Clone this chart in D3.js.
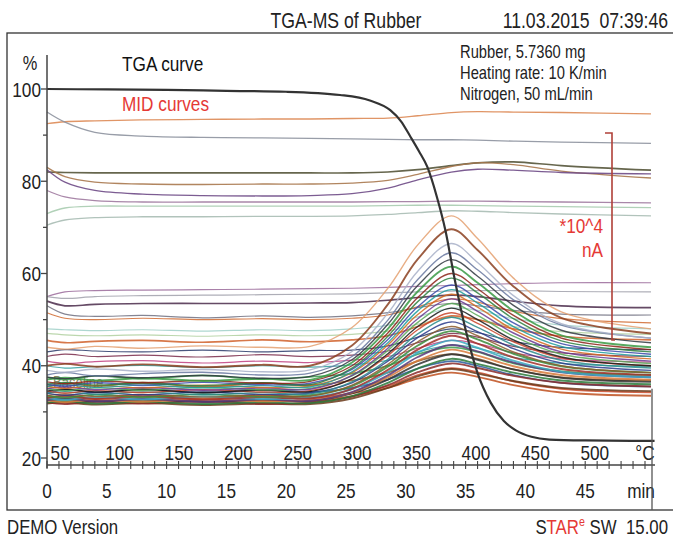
<!DOCTYPE html>
<html><head><meta charset="utf-8">
<script src="https://cdn.jsdelivr.net/npm/d3@7/dist/d3.min.js"></script>
<style>
html,body{margin:0;padding:0;background:#fff;}
svg{display:block;}
text{font-family:'Liberation Sans',Arial,sans-serif;}
</style></head>
<body>
<svg id="chart" width="673" height="537"></svg>
<script>
// ---------- data ----------
const yTicks = [20, 40, 60, 80, 100];
const yMinorTicks = [30, 50, 70, 90];
const timeTicks = [0, 5, 10, 15, 20, 25, 30, 35, 40, 45];
const tempTicks = [50, 100, 150, 200, 250, 300, 350, 400, 450, 500];

const tgaTimes  = [0, 5, 10, 15, 20, 24.5, 27, 28.7, 29.6, 30.4, 31.1, 31.8, 32.6, 33.3, 34.1, 35.0, 36.0, 37.1, 38.2, 39.2, 40.5, 42, 45, 50.8];
const tgaValues = [100, 99.9, 99.8, 99.6, 99.4, 98.7, 97.5, 95.4, 93, 89.6, 86.5, 83.1, 76.6, 69.5, 58.6, 47.8, 38.4, 32, 28, 26, 24.6, 24, 23.8, 23.7];

const midTimes = [0, 1.5, 4, 8, 13, 18, 22, 25.5, 28.5, 31, 33.8, 36, 39, 43, 50.5];

// flat / upper MID curves
const midUpper = [
  [92.5, 92.9, 93.1, 93.3, 93.4, 93.5, 93.5, 93.6, 93.7, 94.2, 94.9, 95.1, 95, 94.9, 94.6],
  [95, 92.8, 90.6, 89.8, 89.5, 89.4, 89.3, 89.2, 89.1, 89, 89, 88.9, 88.7, 88.5, 88.2],
  [82, 81.9, 81.8, 81.8, 81.8, 81.8, 81.8, 81.8, 82, 82.5, 83.4, 84, 84.2, 83.4, 82.4],
  [83, 81, 79.8, 79.4, 79.3, 79.4, 79.4, 79.6, 80.2, 81.5, 83.2, 84, 83.6, 82.2, 80.7],
  [82.5, 79.8, 78, 77.2, 76.9, 76.8, 76.9, 77.3, 78.5, 80.3, 82, 82.6, 82.4, 81.9, 81.6],
  [78, 76.6, 75.8, 75.5, 75.5, 75.5, 75.5, 75.5, 75.6, 75.6, 75.7, 75.7, 75.6, 75.5, 75.3],
  [73, 74.2, 74.6, 74.6, 74.6, 74.6, 74.6, 74.6, 74.7, 74.8, 74.8, 74.7, 74.6, 74.5, 74.3],
  [70.5, 71.6, 72.1, 72.3, 72.3, 72.4, 72.4, 72.5, 72.8, 73.2, 73.6, 73.5, 73.2, 72.9, 72.5]
];
// middle MID curves
const midMiddle = [
  [55, 56, 56.3, 56.4, 56.5, 56.6, 56.7, 56.8, 57, 57.2, 57.4, 57.6, 57.8, 58, 58],
  [55, 54.6, 55, 55.2, 55.3, 55.4, 55.5, 55.6, 55.8, 56, 56.2, 56.3, 56.3, 56.1, 56],
  [54, 53, 53.3, 53.5, 53.5, 53.5, 53.6, 53.7, 54.2, 54.8, 55.3, 55, 54, 53, 52.6],
  [53, 51.2, 50.7, 50.9, 50.4, 50.8, 50.5, 50.8, 51.5, 52.6, 53.5, 53, 52, 51.2, 51],
  [51.5, 50.3, 50, 50.3, 50, 50.2, 50, 50.3, 51, 52.8, 54.5, 53.8, 51.8, 50.2, 49.3],
  [48, 47.8, 47.6, 47.8, 47.5, 47.8, 47.6, 48, 48.8, 50.6, 52.5, 52, 50.2, 48.8, 48],
  [47, 46.7, 46.5, 46.7, 46.4, 46.7, 46.5, 46.8, 47.5, 49, 50.5, 50, 48.5, 47.4, 46.8],
  [45.5, 45, 45.3, 45.5, 45.1, 45.6, 45.2, 45.6, 46.5, 48.5, 50.8, 50, 48, 46.4, 45.6],
  [43, 43.5, 43.2, 43, 43.4, 43, 43.3, 43.4, 44.3, 46.2, 48, 47.2, 45.3, 44, 43.5],
  [42, 42.5, 42, 42.3, 41.9, 42.4, 42, 42.3, 43.2, 45, 47, 46.2, 44.2, 42.8, 42],
  [41, 40.5, 40.9, 41.1, 40.6, 41, 40.7, 41.2, 42, 43.8, 45.5, 44.8, 42.8, 41.5, 40.8],
  [40, 39.5, 39.8, 40.1, 39.6, 40, 39.7, 40.2, 41.2, 43, 44.5, 43.8, 41.8, 40.5, 39.8],
  [37.5, 37, 37.8, 37.2, 37.9, 37.1, 37.6, 38.3, 40, 42.5, 44, 43, 40.5, 38.8, 38],
  [35.5, 36.2, 35.6, 36.4, 35.4, 36.3, 35.8, 36.8, 38.5, 41, 42.5, 41.5, 39.2, 37.5, 36.8],
  [34, 34.8, 34.2, 35, 34.1, 34.9, 34.3, 35.2, 37, 39.4, 41, 40, 38, 36.3, 35.5],
  [33, 33.6, 32.9, 33.7, 32.8, 33.6, 33, 34, 35.6, 38, 39.5, 38.6, 36.6, 35, 34.2]
];
// MID curves with strong peak
const midPeaks = [
  [44, 43.6, 44.2, 43.8, 44.3, 44, 44.2, 48.3, 56.8, 66.2, 72.5, 67.6, 59, 51.7, 48],
  [40, 40.4, 39.8, 40.3, 39.7, 40.2, 40, 44.4, 53.3, 63.1, 69.6, 65.1, 57.2, 50.4, 47],
  [39, 38.6, 39.3, 38.8, 39.2, 38.7, 39.1, 43.1, 51.4, 60.5, 66.5, 62.4, 55.2, 49.1, 46],
  [38, 38.5, 37.8, 38.3, 38.6, 38, 38.4, 42, 49.9, 58.7, 64.5, 60.8, 54.3, 48.8, 46],
  [37.5, 37.2, 37.8, 37.4, 37.9, 37.3, 37.7, 41.3, 49, 57.4, 63, 59.4, 53.1, 47.7, 45],
  [37, 37.4, 36.8, 37.3, 36.7, 37.2, 36.9, 40.7, 48, 56.1, 61.5, 58, 51.9, 46.6, 44],
  [36.5, 36.1, 36.7, 36.3, 36.8, 36.2, 36.6, 40, 47.1, 54.8, 60, 56.7, 50.9, 46, 43.5],
  [36, 36.4, 35.8, 36.2, 35.7, 36.3, 35.9, 39.5, 46.4, 53.9, 59, 55.8, 50.2, 45.4, 43],
  [36, 35.6, 36.3, 35.8, 36.4, 35.9, 36.2, 39.2, 45.7, 52.8, 57.5, 54.5, 49.3, 44.8, 42.5],
  [35.5, 35.9, 35.3, 35.8, 35.2, 35.7, 35.4, 38.7, 45, 51.9, 56.5, 53.6, 48.5, 44.2, 42],
  [35.5, 35.1, 35.7, 35.2, 35.8, 35.3, 35.6, 38.5, 44.5, 51.1, 55.5, 52.7, 47.8, 43.6, 41.5],
  [35, 35.4, 34.8, 35.3, 34.7, 35.2, 34.9, 37.9, 43.8, 50.2, 54.5, 51.8, 47.1, 43, 41],
  [35, 34.6, 35.2, 34.7, 35.3, 34.8, 35.1, 37.8, 43.3, 49.4, 53.5, 50.9, 46.4, 42.5, 40.5],
  [34.5, 34.9, 34.3, 34.8, 34.2, 34.7, 34.4, 37.2, 42.6, 48.5, 52.5, 50, 45.6, 41.9, 40],
  [34.5, 34.1, 34.6, 34.2, 34.8, 34.3, 34.6, 37.1, 42.2, 47.8, 51.5, 49.2, 45.2, 41.7, 40],
  [34, 34.4, 33.8, 34.3, 33.7, 34.2, 33.9, 36.5, 41.4, 46.9, 50.5, 48.3, 44.5, 41.2, 39.5],
  [34, 33.6, 34.2, 33.7, 34.3, 33.8, 34.1, 36.3, 41, 46.1, 49.5, 47.4, 43.7, 40.6, 39],
  [33.5, 33.9, 33.3, 33.8, 33.2, 33.7, 33.4, 35.8, 40.3, 45.2, 48.5, 46.5, 43, 40, 38.5],
  [33.5, 33.1, 33.7, 33.2, 33.8, 33.3, 33.6, 35.6, 39.8, 44.4, 47.5, 45.7, 42.6, 39.9, 38.5],
  [33, 33.4, 32.8, 33.3, 32.7, 33.2, 32.9, 35, 39.1, 43.5, 46.5, 44.8, 41.8, 39.3, 38],
  [33, 32.6, 33.2, 32.7, 33.3, 32.8, 33.1, 34.9, 38.6, 42.8, 45.5, 43.9, 41.1, 38.7, 37.5],
  [32.5, 32.9, 32.3, 32.8, 32.2, 32.7, 32.4, 34.3, 37.9, 41.9, 44.5, 43.1, 40.7, 38.6, 37.5],
  [32.5, 32.1, 32.7, 32.2, 32.8, 32.3, 32.6, 34.2, 37.5, 41.1, 43.5, 42.2, 39.9, 38, 37],
  [32.5, 32.8, 32.3, 32.7, 32.2, 32.6, 32.4, 34, 37, 40.3, 42.5, 41.3, 39.2, 37.4, 36.5],
  [32, 32.3, 31.8, 32.2, 31.7, 32.1, 31.9, 33.4, 36.3, 39.4, 41.5, 40.4, 38.5, 36.8, 36],
  [32, 31.7, 32.2, 31.8, 32.3, 31.7, 32, 33.3, 35.8, 38.6, 40.5, 39.5, 37.8, 36.3, 35.5],
  [31.8, 32, 31.6, 31.9, 31.5, 31.8, 31.7, 32.9, 35.2, 37.7, 39.3, 38.3, 36.7, 35.2, 34.5],
  [32.5, 32.7, 32.3, 32.6, 32.2, 32.5, 32.3, 33.4, 35.2, 37.2, 38.5, 37.6, 35.8, 34.2, 33.5]
];

// ---------- styles ----------
const upperColors = ['#dd8a55','#8d929e','#55553a','#a8784e','#6e4a86','#a07aa0','#a8ccb0','#a8bcb4'];
const middleColors = ['#9a6a9a','#a0a0aa','#4a2a4a','#707080','#d06a30','#a0d0c8','#b0d0a0','#d0602a',
                      '#2a3a6a','#7a2a4a','#c04080','#30a0a0','#3a9a4a','#8b5a2b','#2a5a9a','#c84a2a'];
const peakColors = ['#e4a070','#8b4020','#a8b0c8','#6878a0','#303840','#3a9a44','#8b2218','#2e8040',
                    '#3a48a8','#1f9c9c','#d2691e','#6a3a90','#58a858','#1a1a1a','#c8442a','#2a8a8a',
                    '#2a3a8a','#8b5a2b','#3a8a3a','#a0302a','#3aa8c0','#5a3a7a','#d87a3a','#333333',
                    '#2a7a3a','#8a2a2a','#6a3a1a','#c0501e'];

// ---------- layout ----------
const svg = d3.select('#chart');
const x = d3.scaleLinear().domain([0, 50]).range([47, 645]);
const y = d3.scaleLinear().domain([20, 100]).range([458, 89]);
const tempToTime = d3.scaleLinear().domain([50, 500]).range([1.1, 45.8]);
const NARROW = 0.82;

// narrow-text helper (Arial Narrow look via horizontal scaling)
function txt(parent, px, py, str, size, fill, anchor) {
  const g = parent.append('g').attr('transform', `translate(${px},${py}) scale(${NARROW},1)`);
  const t = g.append('text').attr('x', 0).attr('y', 0).attr('font-size', size)
    .attr('fill', fill || '#222').attr('text-anchor', anchor || 'start')
    .style('white-space', 'pre');
  if (str !== null) t.text(str);
  return t;
}

// frame
svg.append('rect').attr('x', 7).attr('y', 33).attr('width', 670).attr('height', 477)
  .attr('fill', 'none').attr('stroke', '#333').attr('stroke-width', 1.3);

// header
txt(svg, 346, 28, 'TGA-MS of Rubber', 21.5, '#222', 'middle');
txt(svg, 668, 28, '11.03.2015  07:39:46', 21.5, '#222', 'end');

// baseline label under curves
txt(svg, 53, 388, 'Baseline', 16, '#6a6a3a', 'start').attr('opacity', 0.8);

// MID curves
const line = d3.line().x((d, i) => x(midTimes[i])).y(d => y(d)).curve(d3.curveCatmullRom.alpha(0.5));
const gMid = svg.append('g').attr('fill', 'none').attr('stroke-linejoin', 'round');
midMiddle.forEach((v, i) => gMid.append('path').attr('d', line(v))
  .attr('stroke', middleColors[i]).attr('stroke-width', (i === 7 || i === 2 || i >= 12) ? 1.7 : 1.2).attr('opacity', 0.85));
midPeaks.slice().reverse().forEach((v, j) => {
  const i = midPeaks.length - 1 - j;
  gMid.append('path').attr('d', line(v))
    .attr('stroke', peakColors[i]).attr('stroke-width', (i === 1 || i === 5 || i >= 18) ? 1.9 : 1.4).attr('opacity', 0.85);
});
midUpper.forEach((v, i) => gMid.append('path').attr('d', line(v))
  .attr('stroke', upperColors[i]).attr('stroke-width', i === 2 ? 1.7 : 1.3).attr('opacity', 0.9));

// TGA curve
const tgaLine = d3.line().x((d, i) => x(tgaTimes[i])).y(d => y(d)).curve(d3.curveMonotoneX);
svg.append('path').attr('d', tgaLine(tgaValues)).attr('fill', 'none')
  .attr('stroke', '#333').attr('stroke-width', 2.2);

// y axis
const axisColor = '#444';
svg.append('line').attr('x1', 47).attr('x2', 47).attr('y1', 55).attr('y2', 468)
  .attr('stroke', axisColor).attr('stroke-width', 1.5);
yTicks.forEach(v => {
  svg.append('line').attr('x1', 41).attr('x2', 47).attr('y1', y(v)).attr('y2', y(v)).attr('stroke', axisColor).attr('stroke-width', 1.3);
  txt(svg, 41, y(v) + 7.5, String(v), 21, '#222', 'end');
});
yMinorTicks.forEach(v => {
  svg.append('line').attr('x1', 43).attr('x2', 47).attr('y1', y(v)).attr('y2', y(v)).attr('stroke', axisColor).attr('stroke-width', 1.3);
});
txt(svg, 30, 70, '%', 20, '#222', 'middle');

// x axis (time)
const axisY = 465;
svg.append('line').attr('x1', 47).attr('x2', 655).attr('y1', axisY).attr('y2', axisY)
  .attr('stroke', axisColor).attr('stroke-width', 1.5);
d3.range(0, 51).forEach(t => {
  svg.append('line').attr('x1', x(t)).attr('x2', x(t)).attr('y1', axisY - 4).attr('y2', axisY + 4)
    .attr('stroke', axisColor).attr('stroke-width', 1.1);
});
timeTicks.forEach(t => txt(svg, x(t), 498, String(t), 21, '#222', 'middle'));
txt(svg, 641, 498, 'min', 21, '#222', 'middle');
tempTicks.forEach(T => txt(svg, x(tempToTime(T)), 460, String(T), 21, '#222', 'middle'));
txt(svg, 645, 460, '°C', 21, '#222', 'middle');

// end line
svg.append('line').attr('x1', 652).attr('x2', 652).attr('y1', y(35)).attr('y2', 510)
  .attr('stroke', '#555').attr('stroke-width', 1.3);

// annotations
txt(svg, 122, 71, 'TGA curve', 21, '#111');
txt(svg, 122, 111, 'MID curves', 21, '#e53935');
[['Rubber, 5.7360 mg', 58], ['Heating rate: 10 K/min', 79], ['Nitrogen, 50 mL/min', 100]].forEach(d => {
  txt(svg, 460, d[1], d[0], 18, '#222');
});
txt(svg, 603, 233, '*10^4', 21, '#e53935', 'end');
txt(svg, 603, 257, 'nA', 21, '#e53935', 'end');
svg.append('path').attr('d', 'M605,133 L612,133 L612,340 L615,340').attr('fill', 'none')
  .attr('stroke', '#b04038').attr('stroke-width', 1.6);

// footer
txt(svg, 7, 534, 'DEMO Version', 20.5, '#222');
const footer = txt(svg, 668, 534, null, 20.5, '#222', 'end');
footer.append('tspan').text('S');
footer.append('tspan').attr('fill', '#e53935').text('TAR');
footer.append('tspan').attr('fill', '#e53935').attr('font-size', 13).attr('dy', -8).text('e');
footer.append('tspan').attr('dy', 8).text(' SW  15.00');
</script>
</body></html>
